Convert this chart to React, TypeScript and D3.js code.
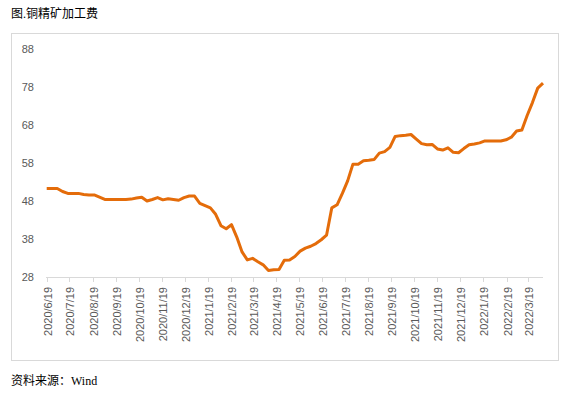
import { useEffect, useRef } from 'react';
import * as d3 from 'd3';

// weekly TC values, first week 2020/6/19
const startDate = '2020-06-19';
const tcValues = [
  51.3, 51.3, 51.3, 50.5, 50.0, 50.0, 50.0, 49.7, 49.6, 49.6,
  49.0, 48.4, 48.4, 48.4, 48.4, 48.4, 48.5, 48.8, 49.0, 48.0,
  48.4, 48.9, 48.3, 48.6, 48.4, 48.2, 48.9, 49.3, 49.3, 47.4,
  46.8, 46.2, 44.5, 41.5, 40.7, 41.8, 38.5, 34.6, 32.5, 32.9,
  32.0, 31.2, 29.7, 29.9, 30.0, 32.4, 32.5, 33.4, 34.8, 35.6,
  36.1, 36.8, 37.8, 39.0, 46.2, 47.0, 50.0, 53.3, 57.7, 57.7,
  58.6, 58.7, 58.9, 60.6, 61.0, 62.1, 65.0, 65.2, 65.3, 65.5,
  64.3, 63.1, 62.8, 62.9, 61.7, 61.4, 62.0, 60.8, 60.7, 61.8,
  62.8, 63.0, 63.3, 63.8, 63.8, 63.8, 63.8, 64.1, 64.8, 66.4,
  66.7, 70.5, 73.9, 77.7, 79.0,
];
const xTickLabels = [
  '2020/6/19', '2020/7/19', '2020/8/19', '2020/9/19', '2020/10/19', '2020/11/19',
  '2020/12/19', '2021/1/19', '2021/2/19', '2021/3/19', '2021/4/19', '2021/5/19',
  '2021/6/19', '2021/7/19', '2021/8/19', '2021/9/19', '2021/10/19', '2021/11/19',
  '2021/12/19', '2022/1/19', '2022/2/19', '2022/3/19',
];
const yTicks = [28, 38, 48, 58, 68, 78, 88];

const App = () => {
  const ref = useRef<SVGSVGElement>(null);

  useEffect(() => {
    const svg = d3.select(ref.current);
    svg.selectAll('*').remove();

    const parse = d3.timeParse('%Y-%m-%d');
    const parseTick = d3.timeParse('%Y/%m/%d');
    const t0 = parse(startDate) as Date;
    const data = tcValues.map((v, i) => ({ date: d3.timeDay.offset(t0, i * 7), value: v }));

    const x = d3.scaleTime()
      .domain([t0, data[data.length - 1].date])
      .range([46.7, 543]);
    const y = d3.scaleLinear().domain([28, 88]).range([277, 49]);

    // outer frame
    svg.append('rect')
      .attr('x', 11.5).attr('y', 33.5)
      .attr('width', 547).attr('height', 327)
      .attr('fill', 'none').attr('stroke', '#d9d9d9');

    // title
    svg.append('text')
      .attr('x', 11).attr('y', 18)
      .attr('font-family', '"Liberation Serif", "Noto Sans CJK SC", serif')
      .attr('font-size', 12)
      .attr('fill', '#000')
      .text('图.铜精矿加工费');

    // y labels
    svg.selectAll('.ylab')
      .data(yTicks)
      .enter().append('text')
      .attr('x', 34)
      .attr('y', d => y(d) + 4)
      .attr('text-anchor', 'end')
      .attr('font-family', '"Liberation Sans", sans-serif')
      .attr('font-size', 11)
      .attr('fill', '#595959')
      .text(d => d);

    // x axis
    const tickDates = xTickLabels.map(s => parseTick(s) as Date);
    svg.append('line')
      .attr('x1', 46).attr('x2', 543)
      .attr('y1', 277.5).attr('y2', 277.5)
      .attr('stroke', '#d9d9d9');
    const ticks = svg.selectAll('.xtick')
      .data(tickDates)
      .enter().append('g')
      .attr('transform', d => `translate(${Math.round(x(d)) + 0.5},277)`);
    ticks.append('line')
      .attr('y1', 0).attr('y2', 5)
      .attr('stroke', '#d9d9d9');
    ticks.append('text')
      .attr('transform', 'translate(4,10) rotate(-90)')
      .attr('text-anchor', 'end')
      .attr('font-family', '"Liberation Sans", sans-serif')
      .attr('font-size', 11)
      .attr('fill', '#595959')
      .text((d, i) => xTickLabels[i]);

    // line
    svg.append('path')
      .datum(data)
      .attr('d', d3.line<{ date: Date; value: number }>()
        .x(d => x(d.date))
        .y(d => y(d.value)))
      .attr('fill', 'none')
      .attr('stroke', '#E46C0A')
      .attr('stroke-width', 3)
      .attr('stroke-linejoin', 'round');

    // source
    svg.append('text')
      .attr('x', 11).attr('y', 385)
      .attr('font-family', '"Liberation Serif", "Noto Sans CJK SC", serif')
      .attr('font-size', 12)
      .attr('fill', '#000')
      .text('资料来源：Wind');
  }, []);

  return (
    <svg ref={ref} width={571} height={395}
      style={{ position: 'absolute', left: 0, top: 0, background: '#fff' }} />
  );
};

export default App;
